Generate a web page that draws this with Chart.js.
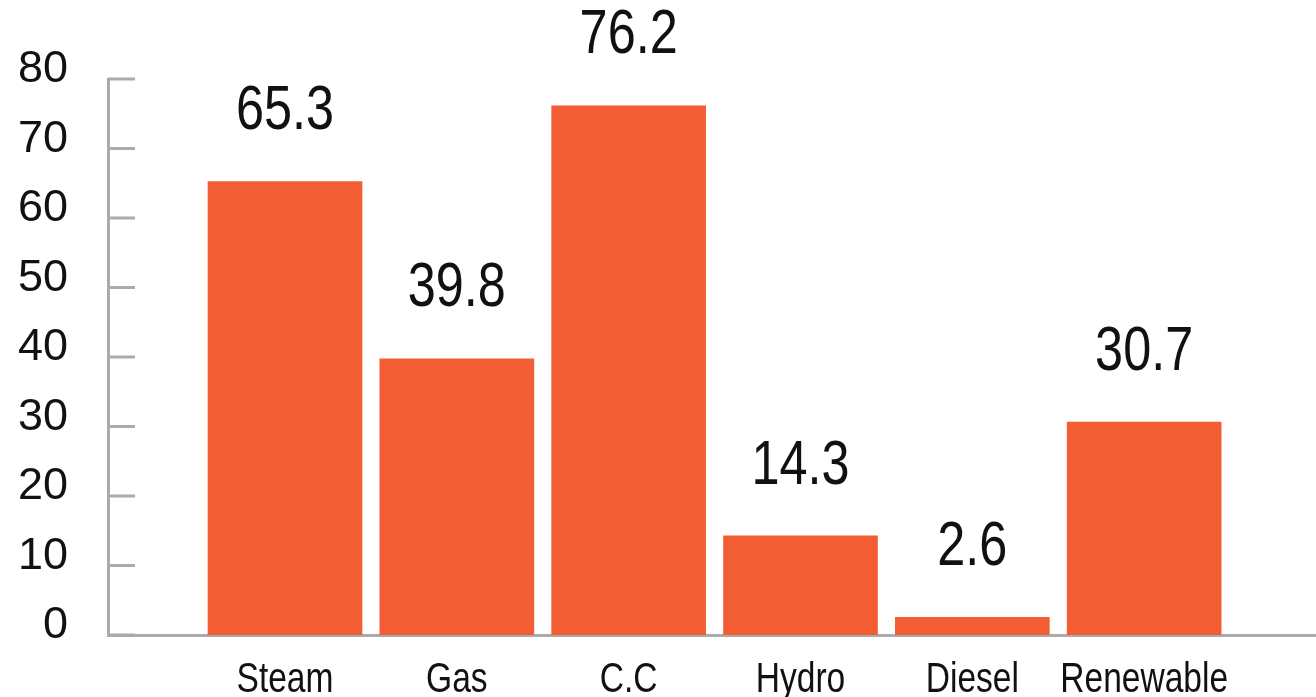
<!DOCTYPE html>
<html>
<head>
<meta charset="utf-8">
<script src="https://cdn.jsdelivr.net/npm/chart.js@4"></script>
<style>
  html, body { margin: 0; padding: 0; background: #fff; }
  #wrap { width: 1316px; height: 697px; }
</style>
</head>
<body>
<div id="wrap"><canvas id="c" width="1316" height="697"></canvas></div>
<script>
const categories = ['Steam', 'Gas', 'C.C', 'Hydro', 'Diesel', 'Renewable'];
const values = [65.3, 39.8, 76.2, 14.3, 2.6, 30.7];
const yTicks = [0, 10, 20, 30, 40, 50, 60, 70, 80];

const BAR_COLOR = '#F25D34';
const AXIS_COLOR = '#ababab';
const TEXT_COLOR = '#111';

// draw text horizontally condensed (the original uses a narrow Helvetica)
function condensedText(ctx, text, x, y, squeeze) {
  ctx.save();
  ctx.translate(x, y);
  ctx.scale(squeeze, 1);
  ctx.fillText(text, 0, 0);
  ctx.restore();
}

const valueLabels = {
  id: 'valueLabels',
  afterDatasetsDraw(chart) {
    const ctx = chart.ctx;
    const meta = chart.getDatasetMeta(0);
    ctx.save();
    ctx.font = '63px "Liberation Sans", Arial, sans-serif';
    ctx.fillStyle = TEXT_COLOR;
    ctx.textAlign = 'center';
    ctx.textBaseline = 'alphabetic';
    meta.data.forEach((bar, i) => {
      condensedText(ctx, values[i].toFixed(1), bar.x, bar.y - 52, 0.8);
    });
    ctx.restore();
  }
};

const categoryLabels = {
  id: 'categoryLabels',
  afterDraw(chart) {
    const ctx = chart.ctx;
    const xs = chart.scales.x;
    ctx.save();
    ctx.font = '43px "Liberation Sans", Arial, sans-serif';
    ctx.fillStyle = TEXT_COLOR;
    ctx.textAlign = 'center';
    ctx.textBaseline = 'alphabetic';
    xs.ticks.forEach((t, i) => {
      condensedText(ctx, categories[i], xs.getPixelForValue(t.value), xs.top + 57, 0.78);
    });
    ctx.restore();
  }
};

const innerTicks = {
  id: 'innerTicks',
  afterDraw(chart) {
    const ctx = chart.ctx;
    const y = chart.scales.y;
    const left = chart.chartArea.left;
    ctx.save();
    ctx.strokeStyle = AXIS_COLOR;
    ctx.lineWidth = 3;
    y.ticks.forEach(t => {
      const py = y.getPixelForValue(t.value);
      ctx.beginPath();
      ctx.moveTo(left, py);
      ctx.lineTo(left + 27, py);
      ctx.stroke();
    });
    ctx.restore();
  }
};

new Chart(document.getElementById('c'), {
  type: 'bar',
  data: {
    datasets: [{
      data: values.map((v, i) => ({ x: i + 1, y: v })),
      backgroundColor: BAR_COLOR,
      borderWidth: 0,
      categoryPercentage: 1,
      barPercentage: 0.9
    }]
  },
  options: {
    responsive: false,
    animation: false,
    layout: { padding: { top: 79, right: 0, bottom: 0, left: 0 } },
    plugins: { legend: { display: false }, tooltip: { enabled: false } },
    scales: {
      x: {
        type: 'linear',
        offset: false,
        min: -0.03,
        max: 7,
        afterBuildTicks: s => { s.ticks = categories.map((c, i) => ({ value: i + 1 })); },
        afterFit: s => { s.height = 62; },
        grid: { display: false, drawTicks: false },
        border: { display: true, color: AXIS_COLOR, width: 3 },
        ticks: { display: false, callback: v => categories[v - 1] || '' }
      },
      y: {
        min: 0,
        max: 80,
        afterBuildTicks: s => { s.ticks = yTicks.map(v => ({ value: v })); },
        afterFit: s => { s.width = 108; },
        grid: { display: false, drawTicks: false },
        border: { display: true, color: AXIS_COLOR, width: 3 },
        ticks: {
          padding: 40,
          color: TEXT_COLOR,
          font: { family: '"Liberation Sans", Arial, sans-serif', size: 45, lineHeight: '18px' },
          // second empty line lifts the label slightly above its tick, as in the original
          callback: v => [String(v), '']
        }
      }
    }
  },
  plugins: [valueLabels, categoryLabels, innerTicks]
});
</script>
</body>
</html>
